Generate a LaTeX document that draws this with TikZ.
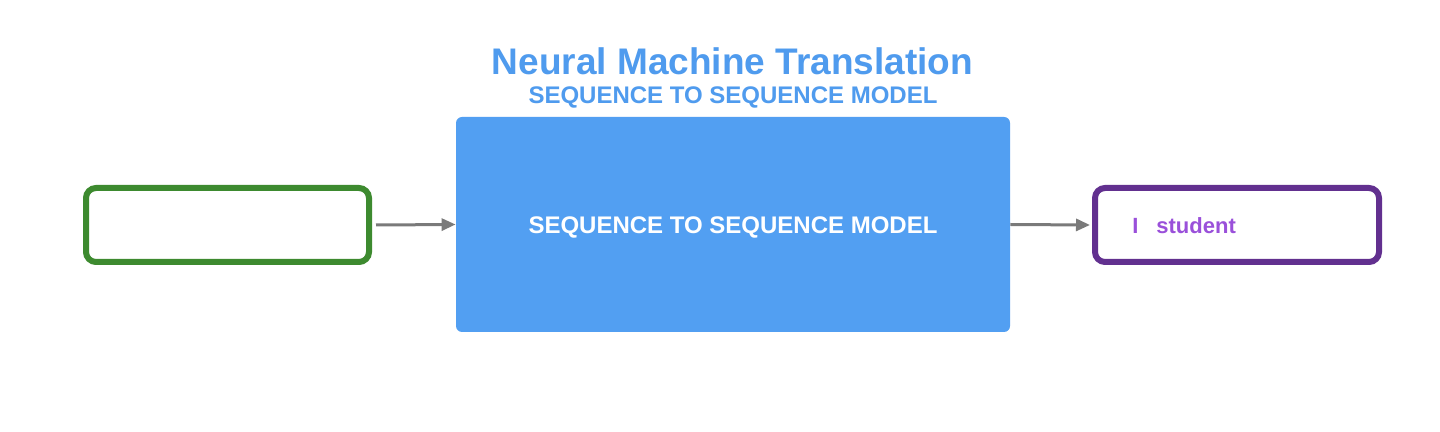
\documentclass[tikz,border=0pt]{standalone}
\usepackage{fontspec}
\setmainfont{Liberation Sans}
\usetikzlibrary{arrows.meta}
\definecolor{titleblue}{HTML}{4F9BEE}
\definecolor{boxblue}{HTML}{529FF2}
\definecolor{srcgreen}{HTML}{3D8A2F}
\definecolor{tgtpurple}{HTML}{62308F}
\definecolor{txtpurple}{HTML}{9A50DA}
\definecolor{arrowgray}{HTML}{7A7A7A}
\tikzset{
  framebox/.style={draw, line width=3pt, rounded corners=5pt, fill=white, inner sep=0pt},
  flow/.style={draw=arrowgray, line width=1.5pt, -{Triangle[length=7pt,width=6pt]}},
}
\begin{document}
\begin{tikzpicture}[x=0.5pt,y=-0.5pt]
\useasboundingbox[fill=white] (0,0) rectangle (1440,432);
\node[anchor=base, text=titleblue, font=\bfseries\fontsize{18.5pt}{22pt}\selectfont] (title) at (732.5,75) {Neural Machine Translation};
\node[anchor=base, text=titleblue, font=\bfseries\fontsize{12pt}{14pt}\selectfont] (subtitle) at (733,104) {SEQUENCE TO SEQUENCE MODEL};
\node[fill=boxblue, rounded corners=3pt, minimum width=277pt, minimum height=107.5pt, inner sep=0pt] (model) at (733,224.5) {};
\node[anchor=base, text=white, font=\bfseries\fontsize{12pt}{14pt}\selectfont] (modeltext) at (733,234) {SEQUENCE TO SEQUENCE MODEL};
\node[framebox, draw=srcgreen, minimum width=141.5pt, minimum height=37pt] (src) at (227.5,225) {};
\node[framebox, draw=tgtpurple, minimum width=142pt, minimum height=37pt] (tgt) at (1237,225) {};
\node[anchor=base west, inner sep=0pt, text=txtpurple, font=\bfseries\fontsize{11pt}{13pt}\selectfont] (wI) at (1132,234) {I};
\node[anchor=base west, inner sep=0pt, text=txtpurple, font=\bfseries\fontsize{11pt}{13pt}\selectfont] (wstudent) at (1156,234) {student};
\draw[flow] ([xshift=2pt]src.east) -- (model.west);
\draw[flow] (model.east) -- ([xshift=-1pt]tgt.west);
\end{tikzpicture}
\end{document}
